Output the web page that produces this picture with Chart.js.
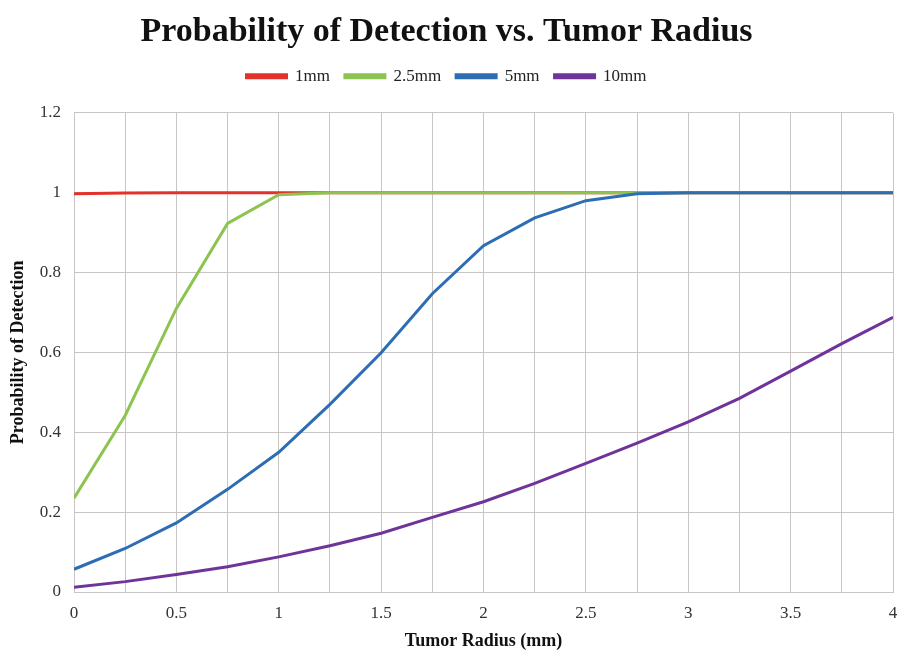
<!DOCTYPE html>
<html>
<head>
<meta charset="utf-8">
<script src="https://cdn.jsdelivr.net/npm/chart.js@4/dist/chart.umd.min.js"></script>
<style>
  html, body { margin: 0; padding: 0; background: #ffffff; }
  #wrap { width: 899px; height: 650px; }
</style>
</head>
<body>
<div id="wrap"><canvas id="chart" width="899" height="650"></canvas></div>
<script>
// Tumor radius (mm) at which detection probability was evaluated
const radii = [0, 0.25, 0.5, 0.75, 1, 1.25, 1.5, 1.75, 2, 2.25, 2.5, 2.75, 3, 3.25, 3.5, 3.75, 4];

// Probability of detection per series
const p1mm   = [0.997, 0.999, 1, 1, 1, 1, 1, 1, 1, 1, 1, 1, 1, 1, 1, 1, 1];
const p2_5mm = [0.235, 0.442, 0.71, 0.923, 0.995, 1, 1, 1, 1, 1, 1, 1, 1, 1, 1, 1, 1];
const p5mm   = [0.057, 0.109, 0.173, 0.257, 0.35, 0.47, 0.599, 0.747, 0.867, 0.937, 0.98, 0.997, 1, 1, 1, 1, 1];
const p10mm  = [0.012, 0.026, 0.044, 0.063, 0.088, 0.116, 0.147, 0.187, 0.226, 0.272, 0.322, 0.373, 0.426, 0.485, 0.553, 0.622, 0.688];

const seriesNames = ['1mm', '2.5mm', '5mm', '10mm'];
const seriesValues = [p1mm, p2_5mm, p5mm, p10mm];
const seriesColors = ['#e3312c', '#8cc44f', '#2c6db3', '#6f3399'];

const serif = '"Liberation Serif", "Times New Roman", serif';

// Later series are painted over earlier ones
const datasets = seriesNames.map((name, i) => ({
  label: name,
  data: radii.map((r, j) => ({ x: r, y: seriesValues[i][j] })),
  borderColor: seriesColors[i],
  backgroundColor: seriesColors[i],
  borderWidth: 3,
  pointRadius: 0,
  tension: 0,
  fill: false,
  order: seriesNames.length - i
}));

// Extra space between the legend row and the plot area
const legendGap = {
  id: 'legendGap',
  beforeInit(chart) {
    const legend = chart.legend;
    if (!legend) return;
    const fit = legend.fit;
    legend.fit = function () {
      fit.call(this);
      this.height += 18;
    };
  }
};

new Chart(document.getElementById('chart'), {
  type: 'line',
  data: { datasets },
  plugins: [legendGap],
  options: {
    responsive: false,
    animation: false,
    layout: { padding: { left: 0, right: 6, top: 0, bottom: 0 } },
    plugins: {
      title: {
        display: true,
        text: 'Probability of Detection vs. Tumor Radius',
        color: '#111111',
        font: { family: serif, size: 34, weight: 'bold' },
        padding: { top: 12, bottom: 0 }
      },
      legend: {
        display: true,
        position: 'top',
        labels: {
          color: '#222222',
          font: { family: serif, size: 17 },
          boxWidth: 40,
          boxHeight: 3,
          padding: 15,
          sort: (a, b) => a.datasetIndex - b.datasetIndex
        }
      },
      tooltip: { enabled: false }
    },
    scales: {
      x: {
        type: 'linear',
        min: 0,
        max: 4,
        title: {
          display: true,
          text: 'Tumor Radius (mm)',
          color: '#111111',
          font: { family: serif, size: 18, weight: 'bold' },
          padding: { top: 0, bottom: -2 }
        },
        ticks: {
          stepSize: 0.25,
          autoSkip: false,
          maxRotation: 0,
          color: '#333333',
          font: { family: serif, size: 17 },
          padding: 11,
          callback: (v) => (Math.abs(v * 2 - Math.round(v * 2)) < 1e-9 ? String(v) : '')
        },
        grid: { color: '#c9c5c5', lineWidth: 1, drawTicks: false },
        border: { color: '#c9c5c5' },
        afterFit: (s) => { s.height = 58; s.paddingLeft = 0; s.paddingRight = 0; }
      },
      y: {
        min: 0,
        max: 1.2,
        title: {
          display: true,
          text: 'Probability of Detection',
          color: '#111111',
          font: { family: serif, size: 18, weight: 'bold' },
          padding: { top: 8, bottom: 0 }
        },
        ticks: {
          stepSize: 0.2,
          color: '#333333',
          font: { family: serif, size: 17 },
          padding: 13,
          callback: (v) => String(Math.round(v * 10) / 10)
        },
        grid: { color: '#c9c5c5', lineWidth: 1, drawTicks: false },
        border: { color: '#c9c5c5' },
        afterFit: (s) => { s.width = 74; }
      }
    }
  }
});
</script>
</body>
</html>
